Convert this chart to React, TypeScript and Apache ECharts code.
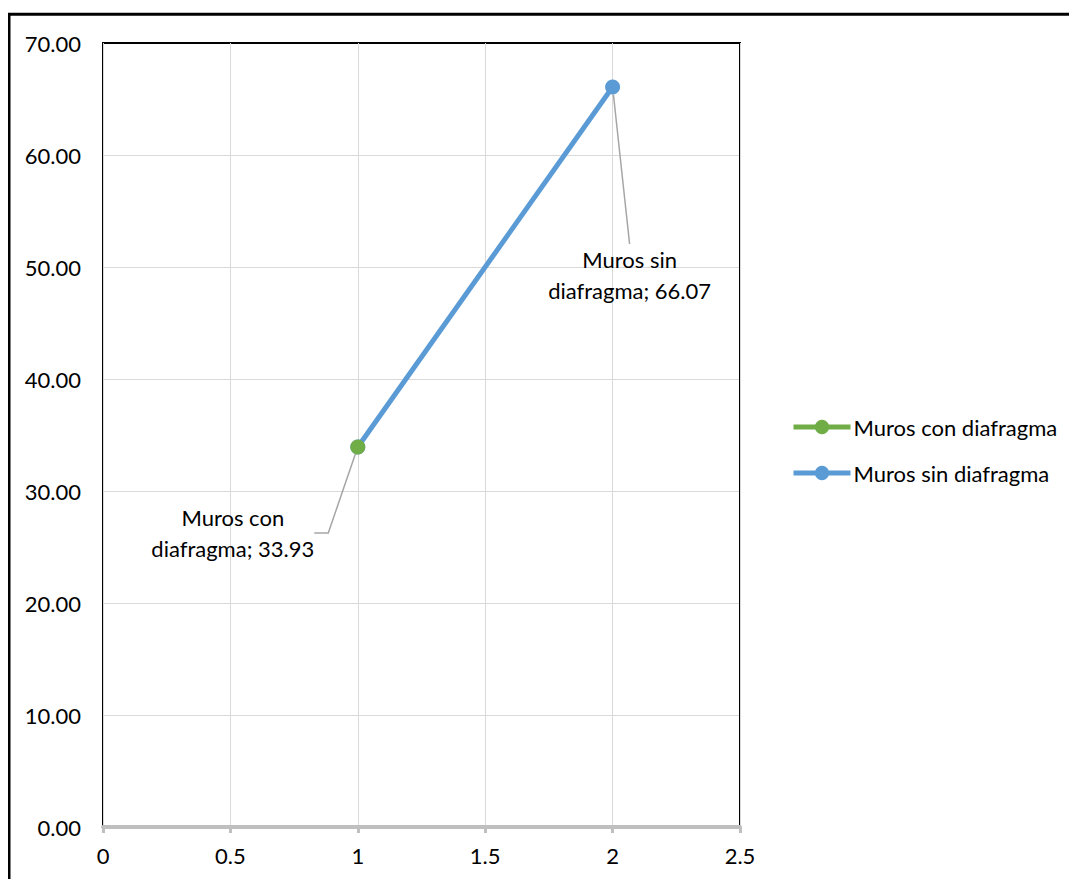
import React, { useEffect, useRef } from "react";
import * as echarts from "echarts";

const seriesNames = ["Muros con diafragma", "Muros sin diafragma"];
const conDiafragma: [number, number][] = [[1, 33.93]];
const sinDiafragma: [number, number][] = [
  [1, 33.93],
  [2, 66.07],
];
const xTicks = { min: 0, max: 2.5, interval: 0.5 };
const yTicks = { min: 0, max: 70, interval: 10 };

const FONT = "Lato";

export default function App() {
  const ref = useRef<HTMLDivElement>(null);
  useEffect(() => {
    if (!ref.current) return;
    document.documentElement.style.overflow = "hidden";
    const chart = echarts.init(ref.current, undefined, { renderer: "svg" });
    const text = { fontFamily: FONT, fontSize: 22, color: "#000" };
    const G = { left: 95, top: 35, width: 637, height: 784 };
    chart.setOption({
      animation: false,
      backgroundColor: "#fff",
      textStyle: { fontFamily: FONT },
      graphic: [
        {
          type: "rect",
          shape: { x: 1, y: 6.3, width: 3000, height: 3000 },
          style: { fill: "none", stroke: "#000", lineWidth: 3 },
          silent: true,
          z: 100,
        },
        {
          type: "polyline",
          shape: {
            points: [
              [G.left, G.top + G.height],
              [G.left, G.top],
              [G.left + G.width, G.top],
              [G.left + G.width, G.top + G.height],
            ],
          },
          style: { fill: "none", stroke: "#000", lineWidth: 2 },
          silent: true,
          z: 1,
        },
      ],
      grid: { ...G, show: false },
      legend: {
        orient: "vertical",
        left: 778,
        top: 403,
        itemWidth: 57,
        itemHeight: 18,
        itemGap: 24,
        lineStyle: { width: 5 },
        textStyle: { ...text, padding: [0, 0, 0, -2] },
        data: seriesNames,
      },
      xAxis: {
        type: "value",
        min: xTicks.min,
        max: xTicks.max,
        interval: xTicks.interval,
        axisLine: { show: true, lineStyle: { color: "#BFBFBF", width: 4 } },
        axisTick: { show: true, length: 6, lineStyle: { color: "#BFBFBF", width: 3 } },
        axisLabel: { ...text, margin: 17 },
        splitLine: { show: true, lineStyle: { color: "#D9D9D9", width: 1 } },
        z: 2,
      },
      yAxis: {
        type: "value",
        min: yTicks.min,
        max: yTicks.max,
        interval: yTicks.interval,
        axisLine: { show: false },
        axisTick: { show: false },
        axisLabel: { ...text, margin: 22, formatter: (v: number) => v.toFixed(2) },
        splitLine: { show: true, lineStyle: { color: "#D9D9D9", width: 1 } },
      },
      series: [
        {
          name: seriesNames[1],
          type: "line",
          data: sinDiafragma.map((d, i) => ({
            value: d,
            label:
              i === 1
                ? {
                    show: true,
                    position: "inside",
                    ...text,
                    align: "center",
                    lineHeight: 31,
                    formatter: "Muros sin\ndiafragma; " + d[1].toFixed(2),
                  }
                : { show: false },
            labelLine: i === 1 ? { show: true } : { show: false },
          })),
          color: "#5B9BD5",
          lineStyle: { width: 5, color: "#5B9BD5" },
          symbol: "circle",
          symbolSize: 15,
          itemStyle: { color: "#5B9BD5" },
          labelLine: { show: true, lineStyle: { color: "#A6A6A6", width: 1.5 } },
          labelLayout: (p: any) =>
            p.dataIndex === 1 ? { dx: 17, dy: 188 } : {},
          z: 3,
        },
        {
          name: seriesNames[0],
          type: "line",
          data: conDiafragma.map((d) => ({
            value: d,
            label: {
              show: true,
              position: "inside",
              ...text,
              align: "center",
              lineHeight: 31,
              formatter: "Muros con\ndiafragma; " + d[1].toFixed(2),
            },
          })),
          color: "#70AD47",
          lineStyle: { width: 5, color: "#70AD47" },
          symbol: "circle",
          symbolSize: 15,
          itemStyle: { color: "#70AD47" },
          labelLine: {
            show: true,
            length2: 14,
            lineStyle: { color: "#A6A6A6", width: 1.5 },
          },
          labelLayout: { dx: -125, dy: 86 },
          z: 4,
        },
      ],
    });
    return () => chart.dispose();
  }, []);
  return <div ref={ref} style={{ width: 1069, height: 871 }} />;
}
